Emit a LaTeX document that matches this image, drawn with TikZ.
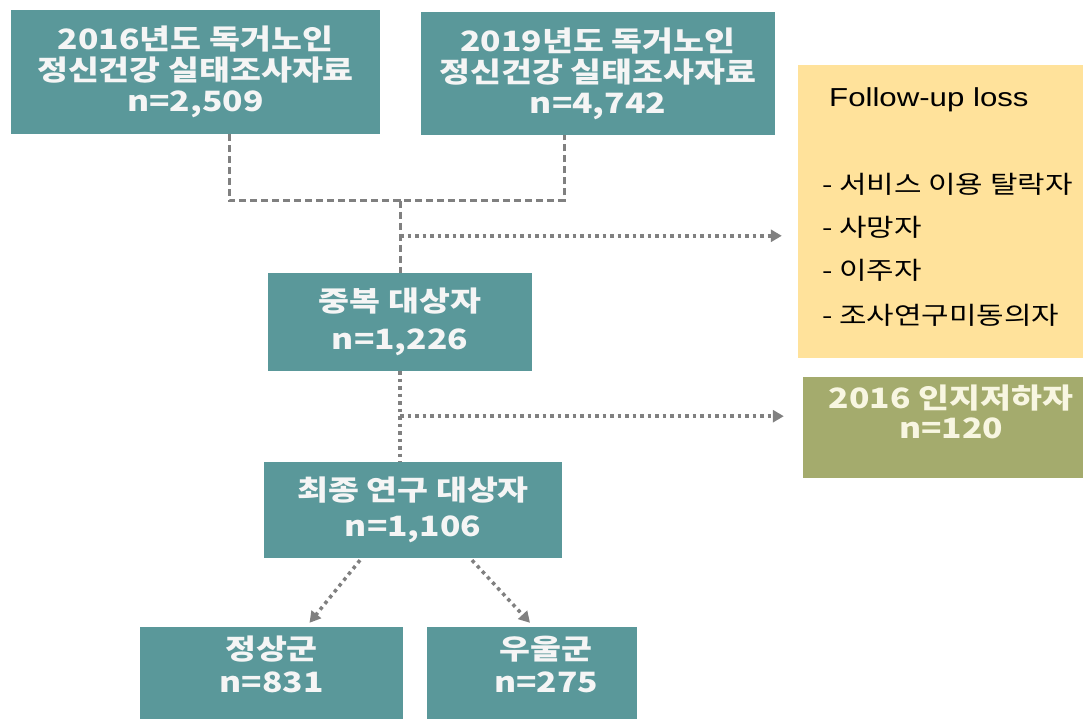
\documentclass[tikz,border=0pt]{standalone}
\usepackage{fontspec}
\usetikzlibrary{arrows.meta,calc}
\newfontfamily\kb{Noto Sans CJK KR}[FakeStretch=1.2]
\newfontfamily\kr{Noto Sans CJK KR}[FakeStretch=1.22]
\newfontfamily\la{Liberation Sans}[FakeStretch=1.2]
\definecolor{tealbox}{RGB}{90,152,154}
\definecolor{yellowbox}{RGB}{255,226,155}
\definecolor{greenbox}{RGB}{164,171,109}
\definecolor{linegray}{RGB}{128,128,128}
\definecolor{boxtext}{RGB}{245,245,245}
\tikzset{
  tbox/.style={rectangle, fill=tealbox, draw=none, inner sep=0pt},
  ttext/.style={text=boxtext, align=center, inner sep=0pt},
  dashline/.style={draw=linegray, line width=3pt, dash pattern=on 7pt off 4pt},
  dotline/.style={draw=linegray, line width=3.5pt, dash pattern=on 3.5pt off 4pt},
  tip/.style={-{Triangle[length=11pt,width=12pt]}},
  listtext/.style={anchor=west, inner sep=0pt, font=\kr\fontsize{24.5}{28}\selectfont},
}
\begin{document}
\begin{tikzpicture}[x=1pt,y=-1pt]
\useasboundingbox (0,0) rectangle (1083,719);
\fill[white] (0,0) rectangle (1083,719);

% top boxes
\node[tbox, ttext, minimum width=369, minimum height=124,
      font=\kb\bfseries\fontsize{28}{31}\selectfont] (b16) at (195.5,72)
  {2016년도 독거노인\\정신건강 실태조사자료\\n=2,509};
\node[tbox, ttext, minimum width=354, minimum height=123,
      font=\kb\bfseries\fontsize{28}{31}\selectfont] (b19) at (598,73.5)
  {2019년도 독거노인\\정신건강 실태조사자료\\n=4,742};

% follow-up loss box
\node[rectangle, fill=yellowbox, inner sep=0pt, minimum width=285, minimum height=293] (fu) at (940.5,211.5) {};
\node[anchor=west, inner sep=0pt, font=\la\fontsize{26}{30}\selectfont] (fut) at (829,100) {Follow-up loss};
\node[listtext] (fu1) at (822,184) {- 서비스 이용 탈락자};
\node[listtext] (fu2) at (822,227) {- 사망자};
\node[listtext] (fu3) at (822,270) {- 이주자};
\node[listtext] (fu4) at (822,315) {- 조사연구미동의자};

% cognitive decline box
\node[rectangle, fill=greenbox, inner sep=0pt, minimum width=280, minimum height=101] (cog) at (943,427.5) {};
\node[ttext, text={rgb,255:red,248;green,246;blue,225}, font=\kb\bfseries\fontsize{28}{30}\selectfont] (cogt) at (951,412)
  {2016 인지저하자\\n=120};

% middle boxes
\node[tbox, ttext, minimum width=264, minimum height=98,
      font=\kb\bfseries\fontsize{28}{38}\selectfont] (dup) at (400,322)
  {중복 대상자\\n=1,226};
\node[tbox, ttext, minimum width=298, minimum height=96,
      font=\kb\bfseries\fontsize{28}{36}\selectfont] (final) at (413,510)
  {최종 연구 대상자\\n=1,106};

% bottom boxes
\node[tbox, minimum width=263, minimum height=110] (normal) at (271.5,682) {};
\node[ttext, font=\kb\bfseries\fontsize{28}{33}\selectfont] (normalt) at (271.5,664) {정상군\\n=831};
\node[tbox, minimum width=210, minimum height=110] (depr) at (532,682) {};
\node[ttext, font=\kb\bfseries\fontsize{28}{33}\selectfont] (deprt) at (546,664) {우울군\\n=275};

% connectors
\coordinate (j) at ($(dup.north)+(0,-72)$);
\draw[dashline] ($(b16.south)+(33.5,0)$) |- (j) -| ($(b19.south)+(-34,0)$);
\draw[dashline] (j) -- (dup.north);
\coordinate (a1) at ($(dup.north)+(0,-37)$);
\draw[dotline, tip] (a1) -- ($(fu.west |- a1)+(-16,0)$);
\draw[dotline] (dup.south) -- (dup.south |- final.north);
\coordinate (a2) at ($(dup.south)+(0,45)$);
\draw[dotline, tip] (a2) -- ($(cog.west |- a2)+(-19,0)$);
\draw[dotline, tip] ($(final.south)+(-53,2)$) -- ($(normal.north)+(38,-4)$);
\draw[dotline, tip] ($(final.south)+(59,2)$) -- ($(depr.north)+(-2,-4)$);
\end{tikzpicture}
\end{document}
